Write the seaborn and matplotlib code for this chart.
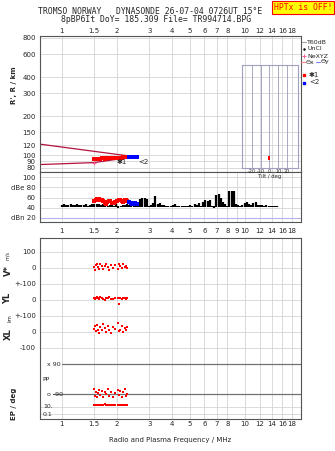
import numpy as np
import seaborn as sns
import matplotlib.pyplot as plt
from matplotlib.lines import Line2D
from matplotlib.ticker import NullLocator

sns.set_style("white")
plt.rcParams['font.family'] = ['DejaVu Sans']

# frequency axis ticks (MHz)
top_ticks = [1, 1.5, 2, 3, 4, 5, 6, 7, 8, 10, 12, 14, 16, 18]
mid_ticks = [1, 1.5, 2, 3, 4, 5, 6, 7, 8, 9, 10, 12, 14, 16, 18]

# virtual height of echoes, trace 1 (red) and trace 2 (blue)
f1 = [1.50, 1.53, 1.56, 1.59, 1.62, 1.65, 1.68, 1.71, 1.74, 1.77, 1.80, 1.84,
      1.88, 1.92, 1.96, 2.00, 2.04, 2.08, 2.12, 2.16, 2.20, 2.24, 2.28]
r1 = [93, 93, 94, 94, 94, 95, 95, 94, 95, 96, 95, 95, 96, 95, 96, 96, 95, 96,
      96, 97, 97, 97, 97]
f2 = [2.34, 2.38, 2.42, 2.46, 2.50, 2.54, 2.58]
r2 = [97, 97, 98, 98, 98, 98, 98]

# echo amplitudes (dBe)
a1 = [54, 56, 57, 57, 56, 55, 54, 50, 48, 52, 54, 53, 50, 49, 51, 53, 55, 56,
      54, 52, 55, 56, 54]
a2 = [52, 50, 48, 47, 49, 48, 47]

# model trace curves
model_f_up = [0.76, 2.45]
model_r_up = [122, 98]
model_f_lo = [0.76, 1.5, 2.42]
model_r_lo = [85, 88, 97]

# noise level 1-15 MHz
noise_f = np.geomspace(1.0, 15.0, 100)
noise_db = [46, 47, 45, 46, 47, 46, 45, 47, 46, 45,
            46, 47, 44, 46, 47, 48, 47,
            47, 46, 48, 45, 44, 46, 45, 43, 47, 40, 44, 46, 45,
            47, 46, 44, 45, 43, 44,
            58, 60, 59, 58,
            44, 46, 50, 62,
            48, 50, 45, 46, 44, 43,
            44, 45, 48, 43, 42, 44, 43, 44, 42,
            45, 44, 48, 46, 50, 43,
            52, 55, 54, 56,
            44, 40,
            65, 66, 60,
            52, 47, 44,
            72, 72, 72, 48,
            45, 44, 46,
            50, 52, 48, 45,
            50, 52, 46, 45,
            46, 44, 45, 43,
            43, 42, 43, 42]

# per-echo parameters (lower panel)
fe = [1.49, 1.51, 1.53, 1.55, 1.57, 1.60, 1.62, 1.65, 1.68, 1.71, 1.75, 1.78,
      1.82, 1.86, 1.90, 1.95, 2.03, 2.06, 2.09, 2.13, 2.17, 2.20, 2.24, 2.28]
vstar = [5, -12, 18, 28, 8, -5, 22, 12, -8, 15, 28, 5, -10, 20, 2, 18, -6, 25,
         10, -3, 22, 8, 15, 0]
yl = [12, 8, 15, 20, 10, 5, 18, 12, 8, 2, 14, 10, 20, 5, 8, 15, 10, -25, 12, 6,
      14, 10, 8, 12]
xl = [20, 35, 5, 45, 10, -5, 30, 15, 50, 25, 0, 40, 10, -8, 30, 20, 55, 5, 15,
      35, 0, 25, 10, 30]
pp = [-60, -100, -75, -110, -85, -65, -95, -70, -105, -80, -90, -60, -100, -75,
      -110, -85, -65, -95, -70, -105, -80, -60, -100, -90]
ep = [40, 45, 35, 50, 42, 38, 48, 44, 36, 52, 40, 46, 38, 50, 44, 36, 48, 40,
      45, 38, 50, 42, 46, 40]

# stacked rows of the lower panel
YL_OFF, XL_OFF = -200, -400
PP_MID, PP_SCALE = -693.75, 187.5 / 180
EP_BASE, EP_SCALE = -890.625, 21.875

GRID = "#d4d4d4"
SPINE = "#555555"
RED, BLUE = "#ff0000", "#0000ff"
TRACE = "#b3123f"
FS = 5

W, H = 335, 451
fig = plt.figure(figsize=(W / 100, H / 100), dpi=100)


def box(l, t, r, b):
    return [l / W, 1 - b / H, (r - l) / W, (b - t) / H]


def freq_axis(ax, ticks, labels_on, pad):
    ax.set_xscale('log')
    ax.set_xlim(0.76, 20.2)
    ax.set_xticks(ticks)
    ax.set_xticklabels([f"{t:g}" for t in ticks])
    ax.xaxis.set_minor_locator(NullLocator())
    for t in ticks:
        ax.axvline(t, color=GRID, lw=0.6, zorder=0)
    ax.tick_params(axis='x', length=0, labelsize=FS, pad=pad,
                   labelbottom=labels_on == 'bottom', labeltop=labels_on == 'top')
    ax.tick_params(axis='y', length=0, labelsize=FS, pad=3)
    for s in ax.spines.values():
        s.set_color(SPINE)
        s.set_linewidth(0.8)


ax_r = fig.add_axes(box(40, 36, 301, 172))
ax_n = fig.add_axes(box(40, 172, 301, 222))
ax_l = fig.add_axes(box(40, 238, 301, 419))

# ---- height panel
freq_axis(ax_r, top_ticks, 'top', 1.5)
ax_r.set_yscale('log')
ax_r.set_ylim(74.5, 828)
r_ticks = [80, 90, 100, 120, 150, 200, 300, 400, 600, 800]
ax_r.set_yticks(r_ticks)
ax_r.set_yticklabels([str(t) for t in r_ticks])
ax_r.yaxis.set_minor_locator(NullLocator())
for t in r_ticks:
    ax_r.axhline(t, color=GRID, lw=0.6, zorder=0)
sns.lineplot(x=model_f_up, y=model_r_up, ax=ax_r, color=TRACE, lw=0.9)
sns.lineplot(x=model_f_lo, y=model_r_lo, ax=ax_r, color=TRACE, lw=0.9)
sns.scatterplot(x=f1, y=r1, ax=ax_r, color=RED, marker='s', s=5, linewidth=0, zorder=3)
sns.scatterplot(x=f2, y=r2, ax=ax_r, color=BLUE, marker='s', s=5, linewidth=0, zorder=3)
ax_r.plot([1.5], [87], marker='+', color="#ff6090", ms=3, mew=0.8)
ax_r.text(1.98, 88.5, "\u27311", fontsize=FS, ha='left', va='center')
ax_r.text(2.62, 88.5, "<2", fontsize=FS, ha='left', va='center')
ax_r.set_xlabel("")
ax_r.set_ylabel("")

# tilt inset (shares height scale)
ax_t = fig.add_axes(box(242, 65, 298, 168))
ax_t.set_yscale('log')
ax_t.set_ylim(80, 496)
ax_t.set_xlim(-31.4, 32.6)
tilt_ticks = [-20, -10, 0, 10, 20]
ax_t.set_xticks(tilt_ticks)
ax_t.set_xticklabels(["-20", "-10", "0", "10", "20"])
ax_t.set_yticks([])
ax_t.yaxis.set_minor_locator(NullLocator())
ax_t.patch.set_alpha(0)
for t in tilt_ticks:
    ax_t.axvline(t, color="#a8a8c4", lw=0.7, zorder=0)
for s in ax_t.spines.values():
    s.set_color("#a0a0c0")
    s.set_linewidth(0.8)
ax_t.tick_params(axis='x', length=0, labelsize=3.6, pad=1)
ax_t.set_xlabel("Tilt / deg", fontsize=3.8, labelpad=0)
sns.scatterplot(x=[0] * len(r1), y=r1, ax=ax_t, color=RED, marker='s', s=1.2, linewidth=0)
ax_t.set_ylabel("")

# ---- amplitude / noise panel
freq_axis(ax_n, mid_ticks, 'bottom', 4)
ax_n.set_ylim(12, 110)
ax_n.set_yticks([20, 40, 60, 80, 100])
ax_n.set_yticklabels(["dBn 20", "40", "60", "dBe 80", "100"])
for t in [40, 60, 80, 100]:
    ax_n.axhline(t, color=GRID, lw=0.6, zorder=0)
ax_n.axhline(20, color="#b4b4ec", lw=0.8, zorder=0)
lo = [min(v, 42) for v in noise_db]
hi = [max(v, 44) for v in noise_db]
ax_n.vlines(noise_f, lo, hi, color="black", lw=1.6, zorder=2)
sns.scatterplot(x=f1, y=a1, ax=ax_n, color=RED, marker='s', s=6, linewidth=0, zorder=3)
sns.scatterplot(x=f2, y=a2, ax=ax_n, color=BLUE, marker='s', s=6, linewidth=0, zorder=3)
ax_n.set_ylabel("")

# ---- lower panel: V*, YL, XL, PP, EP
freq_axis(ax_l, top_ticks, 'bottom', 1.5)
ax_l.set_ylim(-943.75, 187.5)
l_ticks = [100, 0, -100, YL_OFF, YL_OFF - 100, XL_OFF, XL_OFF - 100]
ax_l.set_yticks(l_ticks)
ax_l.set_yticklabels(["100", "0", "+-100", "0", "+-100", "0", "-100"])
for t in l_ticks:
    ax_l.axhline(t, color=GRID, lw=0.6, zorder=0)
ep10 = EP_BASE + EP_SCALE * np.log10(10)
ep01 = EP_BASE + EP_SCALE * np.log10(0.1)
for t in [ep10, ep01]:
    ax_l.axhline(t, color=GRID, lw=0.6, zorder=0)
pp_x = PP_MID + PP_SCALE * 90
pp_o = PP_MID - PP_SCALE * 90
ax_l.axhline(pp_x, xmin=0.085, color="#707070", lw=0.9, zorder=1)
ax_l.axhline(pp_o, xmin=0.05, color="#707070", lw=0.9, zorder=1)

fe_arr = np.array(fe)
rows = [np.array(vstar),
        YL_OFF + np.array(yl),
        XL_OFF + np.array(xl),
        PP_MID + PP_SCALE * np.array(pp),
        EP_BASE + EP_SCALE * np.log10(np.array(ep))]
for row in rows:
    sns.scatterplot(x=fe_arr, y=row, ax=ax_l, color=RED, marker='s', s=4.5,
                    linewidth=0, zorder=3)
ax_l.set_ylabel("")
ax_l.set_xlabel("Radio and Plasma Frequency / MHz", fontsize=FS, labelpad=7)

tr = ax_l.get_yaxis_transform()
ax_l.text(0.027, pp_x, "x 90", transform=tr, fontsize=FS - 0.5, va='center')
ax_l.text(0.011, PP_MID - 6, "PP", transform=tr, fontsize=FS - 0.5, va='center')
ax_l.text(0.027, pp_o, "o -90", transform=tr, fontsize=FS - 0.5, va='center')
ax_l.text(0.011, ep10, "10.", transform=tr, fontsize=FS - 0.5, va='center')
ax_l.text(0.011, ep01, "0.1", transform=tr, fontsize=FS - 0.5, va='center')

# ---- axis titles
def ftext(x, y, s, **kw):
    fig.text(x / W, 1 - y / H, s, **kw)


ftext(14, 85, "R', R / km", rotation=90, fontsize=FS, fontweight='bold', ha='center', va='center')
ftext(8, 270, "V*", rotation=90, fontsize=FS + 1, fontweight='bold', ha='center', va='center')
ftext(8, 256, "m/s", rotation=90, fontsize=FS - 1.5, ha='center', va='center')
ftext(8, 298, "YL", rotation=90, fontsize=FS + 1, fontweight='bold', ha='center', va='center')
ftext(10, 318, "km", rotation=90, fontsize=FS - 1.5, ha='center', va='center')
ftext(8, 334, "XL", rotation=90, fontsize=FS + 1, fontweight='bold', ha='center', va='center')
ftext(14, 404, "EP / deg", rotation=90, fontsize=FS, fontweight='bold', ha='center', va='center')

# ---- header
ftext(150, 12, "TROMSO NORWAY   DYNASONDE 26-07-04 0726UT 15\u00b0E",
      family='DejaVu Sans Mono', fontsize=5.9, ha='center', va='center')
ftext(156, 20, "8pBP6It DoY= 185.309 File= TR994714.BPG",
      family='DejaVu Sans Mono', fontsize=5.9, ha='center', va='center')
ftext(303, 7.5, "HPTx is OFF!", family='DejaVu Sans Mono', fontsize=5.9,
      color=RED, ha='center', va='center',
      bbox=dict(facecolor="#ffff00", edgecolor=RED, lw=0.8, pad=1.2))

# ---- legend
leg = [("T60dB", 42), ("UnCl", 49), ("NeXYZ", 56)]
for s, y in leg:
    ftext(307, y, s, fontsize=FS - 0.5, ha='left', va='center')
fig.add_artist(Line2D([302 / W, 306 / W], [1 - 42 / H] * 2, color="#a0a0a0", lw=0.8))
fig.add_artist(Line2D([304 / W], [1 - 49 / H], marker='.', color='black', ms=1.5, lw=0))
fig.add_artist(Line2D([304 / W], [1 - 56 / H], marker='+', color="#ff6090", ms=3, mew=0.7, lw=0))
fig.add_artist(Line2D([301 / W, 305 / W], [1 - 62 / H] * 2, color="#ff8080", lw=0.8))
ftext(306, 62, "\u0398x", fontsize=FS - 0.5, ha='left', va='center')
fig.add_artist(Line2D([316 / W, 320 / W], [1 - 62 / H] * 2, color="#8080ff", lw=0.8))
ftext(321, 62, "\u0398y", fontsize=FS - 0.5, ha='left', va='center')
fig.add_artist(Line2D([304 / W], [1 - 75 / H], marker='s', color=RED, ms=2, lw=0))
ftext(309, 75, "\u27311", fontsize=FS, ha='left', va='center')
fig.add_artist(Line2D([304 / W], [1 - 82.5 / H], marker='s', color=BLUE, ms=2, lw=0))
ftext(309, 82.5, "<2", fontsize=FS, ha='left', va='center')

fig.savefig("out.png", dpi=100)
